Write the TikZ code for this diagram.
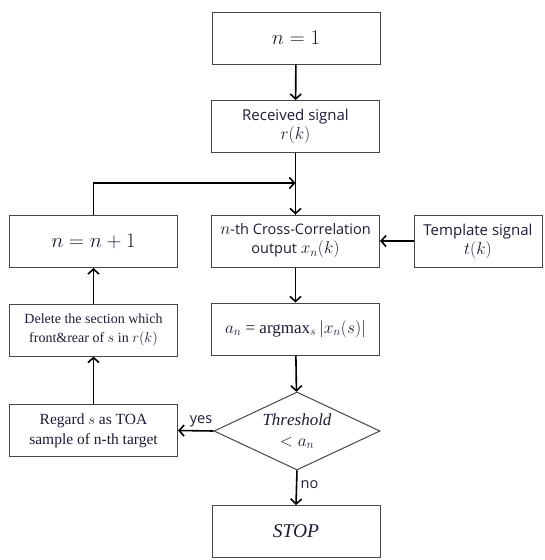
\documentclass[tikz,border=0pt]{standalone}
\usepackage{fontspec}
\setmainfont{Liberation Serif}
\newfontfamily\uisans{Open Sans}
\usetikzlibrary{arrows.meta,shapes.geometric}
\definecolor{ink}{RGB}{28,28,52}
\definecolor{frame}{RGB}{70,70,70}
\tikzset{
  box/.style={draw=frame, line width=1pt, minimum width=168pt, minimum height=52pt,
    inner sep=0pt, align=center, text=ink},
  flow/.style={line width=1.6pt, -{Straight Barb[length=5pt,width=11pt,line width=1.6pt]}},
  lbl/.style={text=ink, font=\uisans\fontsize{14.5}{17}\selectfont}
}
\begin{document}
\begin{tikzpicture}[x=1pt,y=-1pt]
\useasboundingbox (0,0) rectangle (544,560);
% main column
\node[box, font=\fontsize{20}{22}\selectfont] (n1) at (296,38) {$n=1$};
\node[box, font=\uisans\fontsize{15}{19}\selectfont] (recv) at (295.5,126.5)
  {Received signal\\ \fontsize{18}{20}\selectfont$r(k)$};
\node[box, font=\uisans\fontsize{14.5}{19}\selectfont] (xcorr) at (295.5,241)
  {\fontsize{17}{19}\selectfont$n$\fontsize{14.5}{19}\selectfont-th Cross-Correlation\\ output \fontsize{17}{19}\selectfont$x_n(k)$};
\node[box, minimum width=128pt, font=\uisans\fontsize{15}{19}\selectfont] (tmpl) at (478,241)
  {Template signal\\ \fontsize{18}{20}\selectfont$t(k)$};
\node[box, font=\fontsize{17}{20}\selectfont] (amax) at (295.5,329)
  {$a_n$ = argmax$_s\,|x_n(s)|$};
\node[draw=frame, line width=1pt, shape=diamond, aspect=2.1, minimum width=166pt,
  minimum height=78pt, inner sep=0pt, align=center, text=ink,
  font=\fontsize{17}{21}\selectfont] (test) at (297,431)
  {$\mathit{Threshold}$\\ $<a_n$};
\node[box, font=\fontsize{19.5}{22}\selectfont\itshape] (stop) at (296,531.5) {STOP};
% left column
\node[box, font=\fontsize{20}{22}\selectfont] (incr) at (93.5,241.5) {$n=n+1$};
\node[box, font=\fontsize{14}{19}\selectfont] (del) at (93.5,330)
  {Delete the section which\\ front\&rear of $s$ in $r(k)$};
\node[box, font=\fontsize{15.5}{20}\selectfont] (toa) at (93.5,430.5)
  {Regard $s$ as TOA\\ sample of n-th target};
% connectors
\coordinate (merge) at (295.5,183);
\draw[flow] (n1) -- (recv);
\draw[line width=1.6pt] (recv.south) -- (xcorr.north);
\draw[flow] (incr.north) |- (merge);
\draw[flow] (merge) -- (xcorr.north);
\draw[flow] (tmpl) -- (xcorr);
\draw[flow] (xcorr) -- (amax);
\draw[flow] (amax) -- (test);
\draw[flow] (test.south) -- node[lbl, right, pos=0.4] {no} (stop.north);
\draw[flow] (test.west) -- node[lbl, above, pos=0.35] {yes} (toa.east);
\draw[flow] (toa) -- (del);
\draw[flow] (del) -- (incr);
\end{tikzpicture}
\end{document}
